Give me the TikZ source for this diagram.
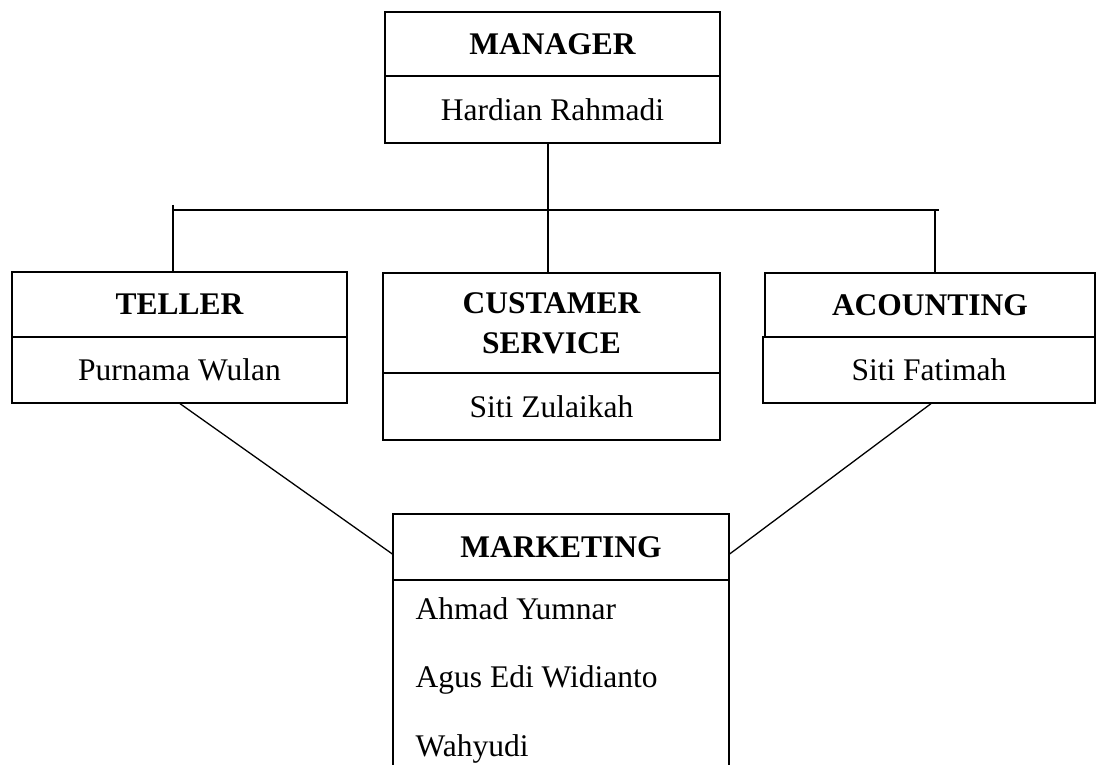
\documentclass[tikz,border=0pt]{standalone}
\usepackage{fontspec}
\setmainfont{Liberation Serif}
\usetikzlibrary{calc}
\begin{document}
\begin{tikzpicture}[x=1pt,y=1pt,
  line width=1.3pt,
  txt/.style={font=\fontsize{31.5}{40}\selectfont},
  cell/.style={draw, rectangle, inner sep=0pt, txt, align=center},
  head/.style={cell, font=\fontsize{31.5}{40}\selectfont\bfseries},
  conn/.style={draw, line width=1.3pt}]
\useasboundingbox (0,0) rectangle (1096,765);
% Manager
\node[head, minimum width=335, minimum height=64] (mgrT) at (552.5,721) {MANAGER};
\node[cell, minimum width=335, minimum height=67] (mgrB) at (552.5,655.5) {Hardian Rahmadi};
% Teller
\node[head, minimum width=335, minimum height=65] (telT) at (179.5,460.5) {TELLER};
\node[cell, minimum width=335, minimum height=66] (telB) at (179.5,395) {Purnama Wulan};
% Customer service
\node[head, minimum width=337, minimum height=100] (csT) at (551.5,442) {CUSTAMER\\SERVICE};
\node[cell, minimum width=337, minimum height=67] (csB) at (551.5,358.5) {Siti Zulaikah};
% Acounting
\node[head, minimum width=330, minimum height=64] (accT) at (930,460) {ACOUNTING};
\node[cell, minimum width=332, minimum height=66] (accB) at (929,395) {Siti Fatimah};
% Marketing
\node[head, minimum width=336, minimum height=66] (mktT) at (561,218) {MARKETING};
\node[cell, minimum width=336, minimum height=220] (mktB) at (561,75) {};
\node[txt, anchor=base west, inner sep=0pt] (n1) at (415,145) {Ahmad Yumnar};
\node[txt, anchor=base west, inner sep=0pt] (n2) at (415,77) {Agus Edi Widianto};
\node[txt, anchor=base west, inner sep=0pt] (n3) at (415,8) {Wahyudi};
% connectors
\coordinate (busL) at (173,555);
\coordinate (busR) at (939,555);
\coordinate (busM) at (548,555);
\coordinate (busA) at (935,555);
\draw[conn] (mgrB.south -| busM) -- (csT.north -| busM);
\draw[conn] (busL) -- (busR);
\draw[conn] ($(busL)+(0,5)$) -- (telT.north -| busL);
\draw[conn] (busA) -- (accT.north -| busA);
\draw[conn] ($(telB.south)+(0.5,0)$) -- ($(mktT.west)+(0,-7)$);
\draw[conn] ($(accB.south)+(2,0)$) -- ($(mktT.east)+(0,-7)$);
\end{tikzpicture}
\end{document}
